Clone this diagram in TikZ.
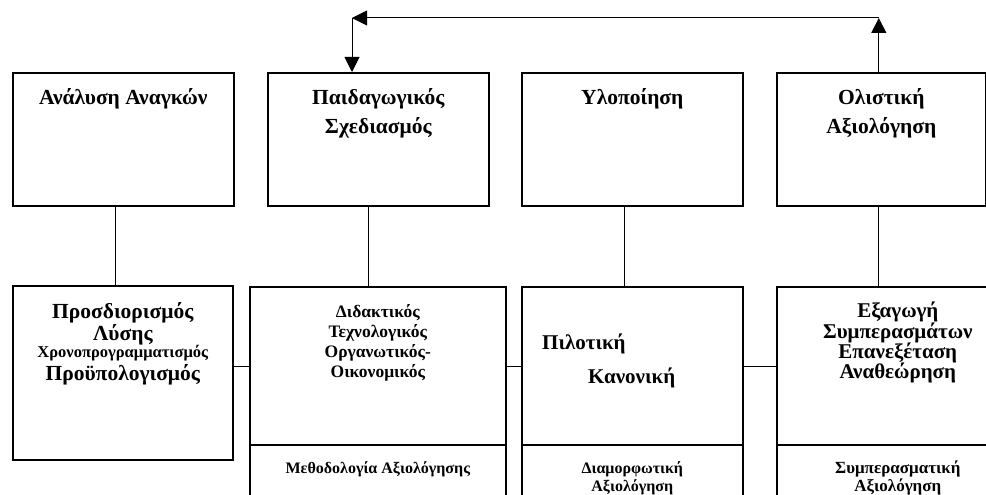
\documentclass[tikz,border=0pt]{standalone}
\usepackage{fontspec}
\setmainfont{Liberation Serif}
\usetikzlibrary{arrows.meta,positioning,calc}
\newcommand{\tightskip}{\lineskiplimit-30pt\relax}

\begin{document}
\begin{tikzpicture}[x=1pt,y=-1pt,>={Triangle[length=15pt,width=15pt]}]
\tikzstyle{stagebox}=[draw,line width=1.6pt,inner sep=0pt,anchor=north west]
\tikzstyle{headtext}=[font=\bfseries\fontsize{21.5}{29}\selectfont,align=center,inner sep=0pt]
\tikzstyle{bodytext}=[font=\bfseries\fontsize{21}{20.3}\selectfont\tightskip,align=center,inner sep=0pt]
\tikzstyle{evaltext}=[font=\bfseries\fontsize{16}{18}\selectfont\tightskip,align=center,inner sep=0pt]
\tikzstyle{link}=[line width=1pt]
\clip (0,0) rectangle (986,495);
\coordinate (top) at (0,18);
\coordinate (mid) at (0,366);
\coordinate (sep) at (0,445);
\coordinate (loopL) at (352,18);
% top row: phases
\node[stagebox,minimum width=221pt,minimum height=133pt] (anal) at (12,72) {};
\node[stagebox,minimum width=221pt,minimum height=133pt] (paid) at (267,72) {};
\node[stagebox,minimum width=221pt,minimum height=133pt] (ylop) at (521,72) {};
\node[stagebox,minimum width=209pt,minimum height=133pt] (olis) at (776,72) {};
\node[headtext,below=16pt of anal.north] (analtxt) {Ανάλυση Αναγκών};
\node[headtext,below=16pt of paid.north] (paidtxt) {Παιδαγωγικός\\Σχεδιασμός};
\node[headtext,below=16pt of ylop.north] (yloptxt) {Υλοποίηση};
\node[headtext,below=16pt of olis.north] (olistxt) {Ολιστική\\Αξιολόγηση};
% bottom row: contents
\node[stagebox,minimum width=220pt,minimum height=174pt] (lys) at (12,285) {};
\node[stagebox,minimum width=256pt,minimum height=240pt] (did) at (249,286) {};
\node[stagebox,minimum width=221pt,minimum height=240pt] (pil) at (521,286) {};
\node[stagebox,minimum width=242pt,minimum height=240pt] (syn) at (776,286) {};
\foreach \b in {did,pil,syn}
  \draw[line width=1.6pt] (\b.west |- sep) -- (\b.east |- sep);
\node[bodytext,font=\bfseries\fontsize{21.5}{22}\selectfont\tightskip,below=17pt of lys.north] (lystxt) {Προσδιορισμός\\Λύσης\\[-5pt]{\fontsize{16.5}{15}\selectfont Χρονοπρογραμματισμός}\\[1pt]Προϋπολογισμός};
\node[bodytext,font=\bfseries\fontsize{17.5}{20}\selectfont\tightskip,below=18pt of did.north] (didtxt) {Διδακτικός\\Τεχνολογικός\\Οργανωτικός-\\Οικονομικός};
\node[bodytext,align=left,anchor=north west] (piltxt) at ([xshift=21pt,yshift=-48pt]pil.north west) {Πιλοτική\\[13pt]\hspace*{46pt}Κανονική};
\node[bodytext,below=16pt of syn.north] (syntxt) {Εξαγωγή\\Συμπερασμάτων\\Επανεξέταση\\Αναθεώρηση};
\node[evaltext,anchor=north] (didev) at ([yshift=-16pt]did.center |- sep) {Μεθοδολογία Αξιολόγησης};
\node[evaltext,anchor=north] (pilev) at ([yshift=-16pt]pil.center |- sep) {Διαμορφωτική\\Αξιολόγηση};
\node[evaltext,font=\bfseries\fontsize{17}{18}\selectfont\tightskip,anchor=north] (synev) at ([yshift=-16pt]syn.center |- sep) {Συμπερασματική\\Αξιολόγηση};
% connectors
\draw[link] ([xshift=-7.5pt]anal.south) -- ([xshift=-7.5pt]anal.south |- lys.north);
\draw[link] ([xshift=-9.5pt]paid.south) -- ([xshift=-9.5pt]paid.south |- did.north);
\draw[link] ([xshift=-7.5pt]ylop.south) -- ([xshift=-7.5pt]ylop.south |- pil.north);
\draw[link] ([xshift=-2.5pt]olis.south) -- ([xshift=-2.5pt]olis.south |- syn.north);
\draw[link] (lys.east |- mid) -- (did.west |- mid);
\draw[link] (did.east |- mid) -- (pil.west |- mid);
\draw[link] (pil.east |- mid) -- (syn.west |- mid);
% feedback loop
\draw[link,->] ([xshift=-2.5pt]olis.north) -- ([xshift=-2.5pt]olis.north |- top);
\draw[link,->] ([xshift=-2.5pt]olis.north |- top) -- (loopL);
\draw[link,->] (loopL) -- (loopL |- paid.north);
\end{tikzpicture}
\end{document}
